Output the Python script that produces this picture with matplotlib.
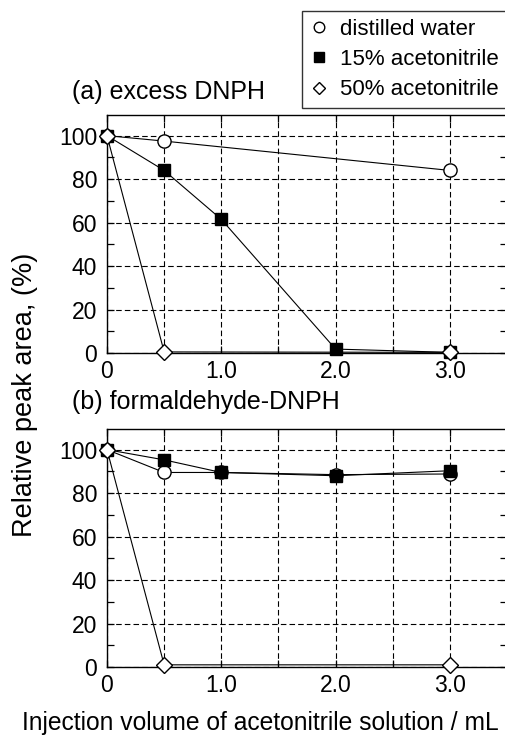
import matplotlib
matplotlib.use("Agg")
import matplotlib.pyplot as plt
from matplotlib.ticker import MultipleLocator, FixedLocator, FuncFormatter

plt.rcParams['font.family'] = ['Liberation Sans', 'DejaVu Sans']

# ---- data ----
series_names = ["distilled water", "15% acetonitrile", "50% acetonitrile"]

# (a) excess DNPH
a_water_x = [0, 0.5, 3.0]
a_water_y = [100, 97.5, 84]
a_ace15_x = [0, 0.5, 1.0, 2.0, 3.0]
a_ace15_y = [100, 84, 61.5, 1.8, 0.3]
a_ace50_x = [0, 0.5, 3.0]
a_ace50_y = [100, 0.5, 0.3]

# (b) formaldehyde-DNPH
b_water_x = [0, 0.5, 1.0, 2.0, 3.0]
b_water_y = [100, 89.5, 89.5, 88.5, 88.8]
b_ace15_x = [0, 0.5, 1.0, 2.0, 3.0]
b_ace15_y = [100, 95.3, 89.5, 88.0, 90.3]
b_ace50_x = [0, 0.5, 3.0]
b_ace50_y = [100, 1.0, 1.0]

panel_titles = ["(a) excess DNPH", "(b) formaldehyde-DNPH"]
x_tick_labels = {0.0: "0", 1.0: "1.0", 2.0: "2.0", 3.0: "3.0"}
y_ticks = [0, 20, 40, 60, 80, 100]
xlabel = "Injection volume of acetonitrile solution / mL"
ylabel = "Relative peak area, (%)"

W, H = 506, 740
fig = plt.figure(figsize=(W / 100, H / 100), dpi=100)

def fx(px):
    return px / W

def fy(py):
    return 1 - py / H

ax_left = fx(107)
ax_w = fx(400)
ax_h = 238 / H
axA = fig.add_axes([ax_left, fy(353), ax_w, ax_h])
axB = fig.add_axes([ax_left, fy(667), ax_w, ax_h])

styles = [
    dict(marker='o', mfc='white', mec='black', ms=9.5),
    dict(marker='s', mfc='black', mec='black', ms=9),
    dict(marker='D', mfc='white', mec='black', ms=8),
]

def draw(ax, data):
    handles = []
    for (xs, ys), st, name in zip(data, styles, series_names):
        h, = ax.plot(xs, ys, color='black', lw=0.8, mew=1.0, label=name,
                     clip_on=False, zorder=3, **st)
        handles.append(h)
    ax.set_xlim(0, 3.5)
    ax.set_ylim(0, 109.5)
    ax.xaxis.set_major_locator(MultipleLocator(0.5))
    ax.xaxis.set_major_formatter(FuncFormatter(
        lambda v, p: x_tick_labels.get(round(v, 2), "")))
    ax.yaxis.set_major_locator(FixedLocator(y_ticks))
    ax.yaxis.set_minor_locator(MultipleLocator(10))
    ax.tick_params(which='both', direction='in', left=True, right=True,
                   top=True, bottom=True, labelsize=16.5, width=0.9,
                   colors='black')
    ax.tick_params(which='major', length=5)
    ax.tick_params(which='minor', length=5)
    ax.tick_params(axis='x', pad=5)
    ax.tick_params(axis='y', pad=7)
    ax.grid(True, which='major', color='black', lw=0.8,
            linestyle=(0, (5.0, 2.8)))
    ax.set_axisbelow(True)
    for s in ax.spines.values():
        s.set_linewidth(1.0)
    return handles

hA = draw(axA, [(a_water_x, a_water_y), (a_ace15_x, a_ace15_y),
                (a_ace50_x, a_ace50_y)])
draw(axB, [(b_water_x, b_water_y), (b_ace15_x, b_ace15_y),
           (b_ace50_x, b_ace50_y)])

fig.text(fx(72), fy(92), panel_titles[0], fontsize=18, ha='left', va='center')
fig.text(fx(72), fy(402), panel_titles[1], fontsize=18, ha='left', va='center')

fig.text(fx(22), fy(723), xlabel, fontsize=17.7, ha='left', va='center')
fig.text(fx(25), fy(395), ylabel, fontsize=19.5, ha='center', va='center',
         rotation=90)

leg = fig.legend(handles=hA, labels=series_names, loc='upper left',
                 bbox_to_anchor=(fx(302), fy(11)), fontsize=16,
                 frameon=True, fancybox=False, markerscale=0.8,
                 handlelength=0.8, handletextpad=0.55, borderpad=0.35,
                 labelspacing=0.42, borderaxespad=0)
for line in leg.get_lines():
    line.set_linestyle('none')
leg.get_frame().set_edgecolor('black')
leg.get_frame().set_linewidth(1.0)

fig.savefig("out.png", dpi=100)
